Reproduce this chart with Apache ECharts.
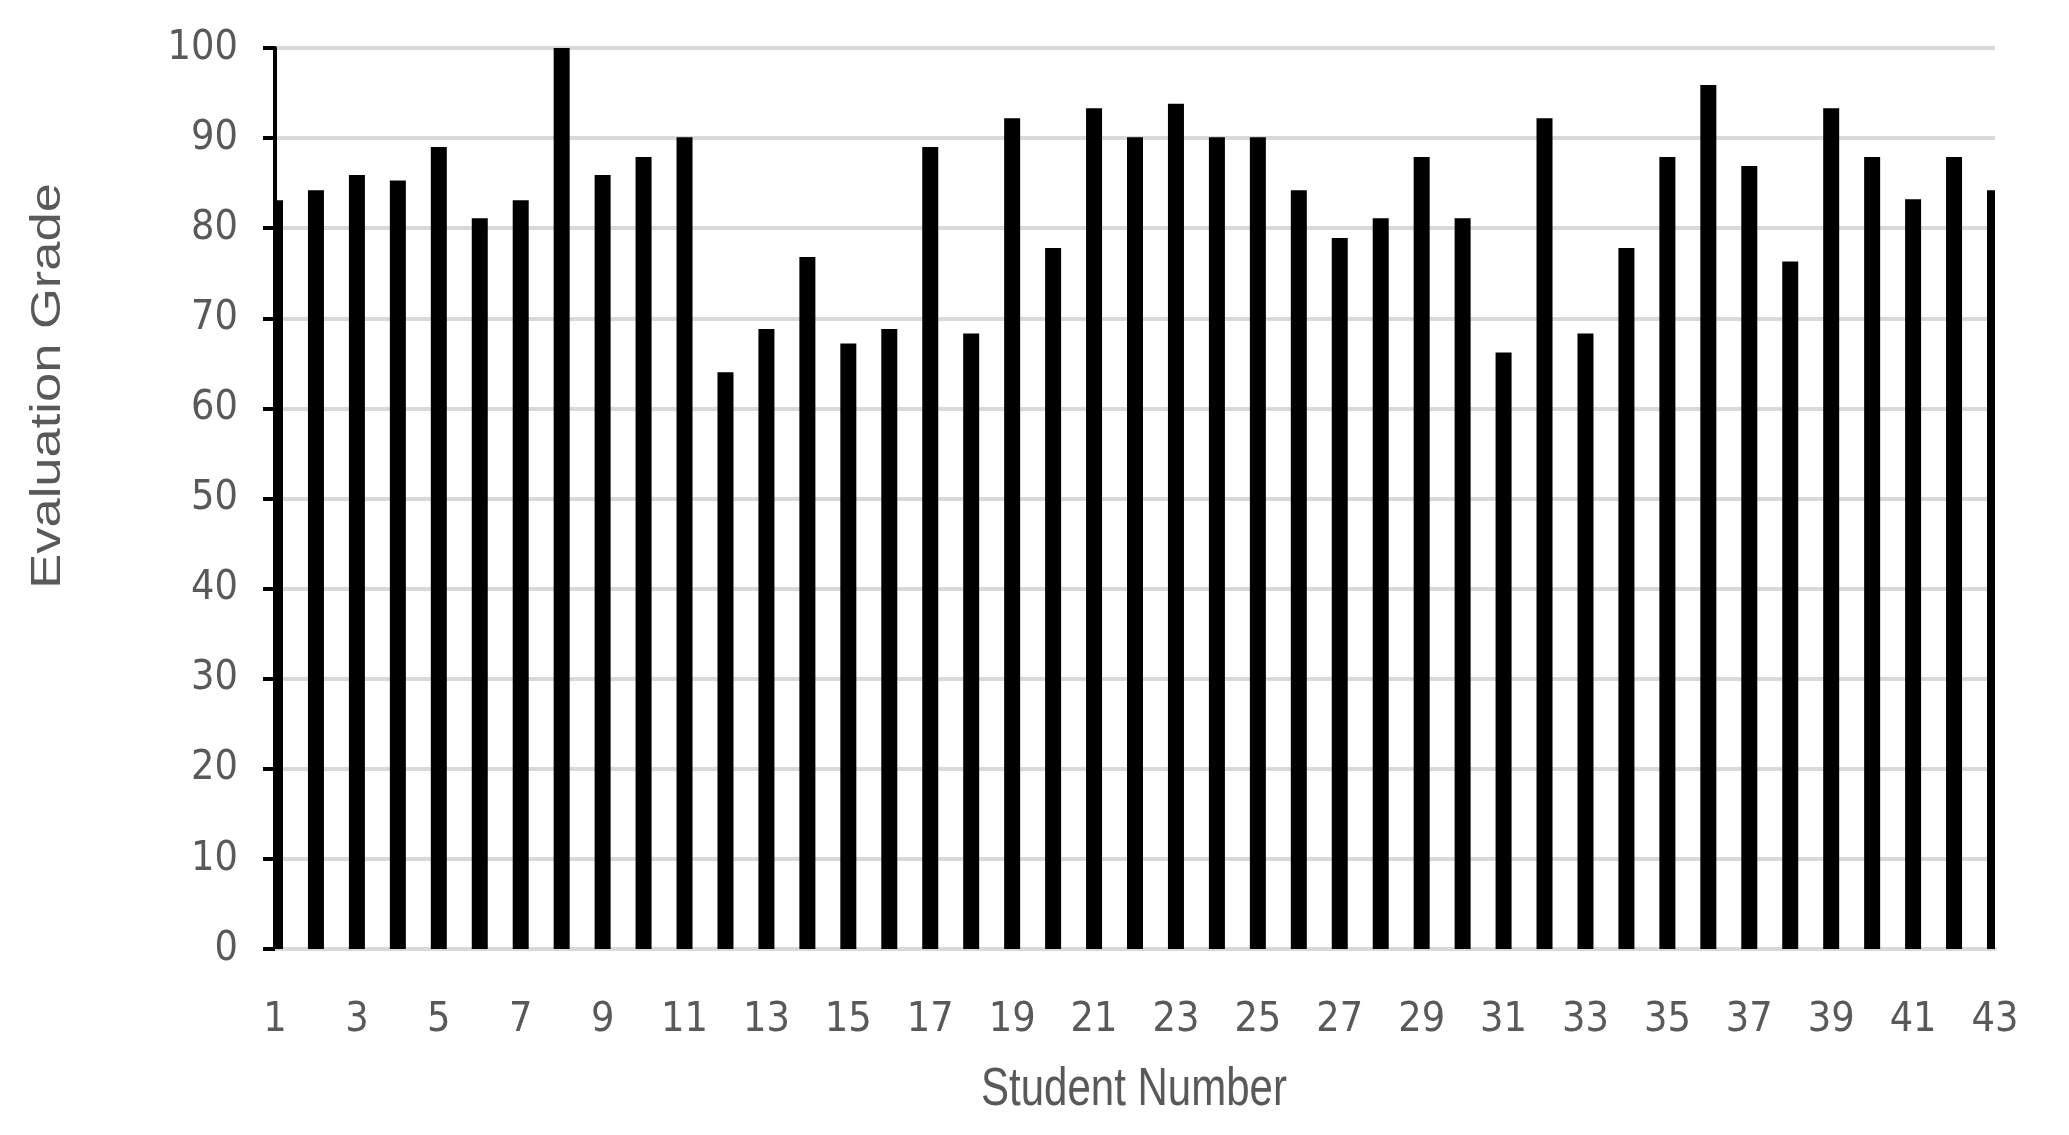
<!DOCTYPE html>
<html>
<head>
<meta charset="utf-8">
<script src="https://cdn.jsdelivr.net/npm/echarts@6/dist/echarts.min.js"></script>
<style>
  html, body { margin: 0; padding: 0; background: #ffffff; }
  #chart { width: 2069px; height: 1135px; }
</style>
</head>
<body>
<div id="chart"></div>
<script>
const students = ['1','2','3','4','5','6','7','8','9','10','11','12','13','14','15','16','17','18','19','20','21','22','23','24','25','26','27','28','29','30','31','32','33','34','35','36','37','38','39','40','41','42','43'];
const grades = [83.1, 84.2, 85.9, 85.3, 89.0, 81.1, 83.1, 100, 85.9, 87.9, 90.1, 64.0, 68.8, 76.8, 67.2, 68.8, 89.0, 68.3, 92.2, 77.8, 93.3, 90.1, 93.8, 90.1, 90.1, 84.2, 78.9, 81.1, 87.9, 81.1, 66.2, 92.2, 68.3, 77.8, 87.9, 95.9, 86.9, 76.3, 93.3, 87.9, 83.2, 87.9, 84.2];
const yTicks = { min: 0, max: 100, interval: 10 };
const xTitle = 'Student Number';
const yTitle = 'Evaluation Grade';

const narrow = "'Liberation Sans Narrow', 'DejaVu Sans Condensed', sans-serif";
const textGray = '#595959';
const BAR_W = 16;

const chart = echarts.init(document.getElementById('chart'), null, { renderer: 'canvas' });
chart.setOption({
  animation: false,
  backgroundColor: '#ffffff',
  grid: { left: 275, right: 74, top: 48, bottom: 186, containLabel: false, outerBoundsMode: 'none' },
  xAxis: {
    type: 'category',
    data: students,
    boundaryGap: false,
    axisLine: { show: true, lineStyle: { color: '#d9d9d9', width: 4 } },
    axisTick: { show: false },
    axisLabel: { interval: 1, margin: 51, color: textGray, fontSize: 41, fontFamily: narrow },
    splitLine: { show: false }
  },
  yAxis: {
    type: 'value',
    min: yTicks.min,
    max: yTicks.max,
    interval: yTicks.interval,
    axisLine: { show: true, lineStyle: { color: '#000000', width: 4 } },
    axisTick: { show: true, inside: false, length: 12, lineStyle: { color: '#000000', width: 4 } },
    axisLabel: { margin: 37, color: textGray, fontSize: 41, fontFamily: narrow },
    splitLine: { show: true, lineStyle: { color: '#d9d9d9', width: 4 } }
  },
  series: [{
    type: 'custom',
    data: grades.map((v, i) => [i, v]),
    encode: { x: 0, y: 1 },
    clip: true,
    renderItem: function (params, api) {
      const top = api.coord([api.value(0), api.value(1)]);
      const base = api.coord([api.value(0), 0]);
      const rect = { x: top[0] - BAR_W / 2, y: top[1], width: BAR_W, height: base[1] - top[1] };
      const cs = params.coordSys;
      const shape = echarts.graphic.clipRectByRect(rect, { x: cs.x, y: cs.y, width: cs.width, height: cs.height });
      if (!shape) return null;
      return { type: 'rect', shape: shape, style: { fill: '#000000' } };
    }
  }],
  graphic: [
    {
      type: 'text',
      x: 1134,
      y: 1090,
      scaleY: 1.26,
      style: {
        text: xTitle,
        font: "42px 'Liberation Sans', Arial, sans-serif",
        fill: textGray,
        textAlign: 'center',
        textVerticalAlign: 'middle'
      }
    },
    {
      type: 'text',
      x: 48,
      y: 386,
      rotation: Math.PI / 2,
      scaleX: 1.25,
      style: {
        text: yTitle,
        font: "42px 'Liberation Sans', Arial, sans-serif",
        fill: textGray,
        textAlign: 'center',
        textVerticalAlign: 'middle'
      }
    }
  ]
});
</script>
</body>
</html>
